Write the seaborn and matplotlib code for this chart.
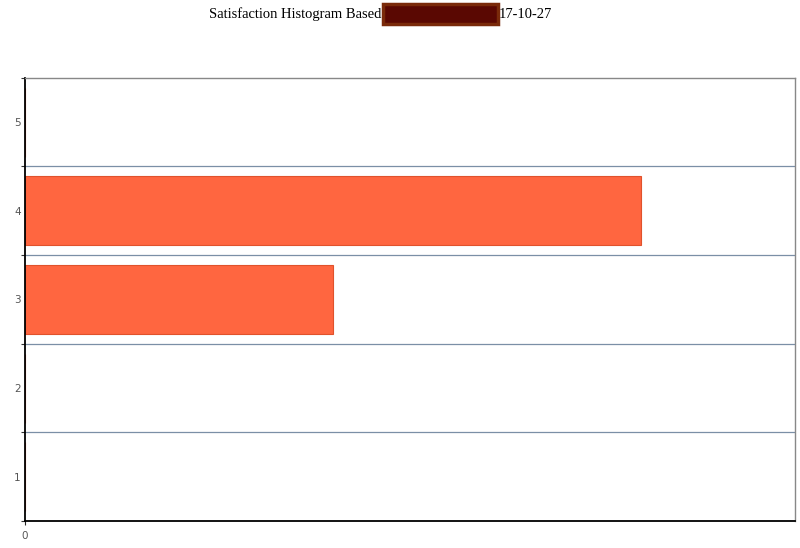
import numpy as np
import pandas as pd
import matplotlib
matplotlib.use("Agg")
import matplotlib.pyplot as plt
import seaborn as sns
from matplotlib.patches import Rectangle

# satisfaction levels, top to bottom as drawn
levels = ['5', '4', '3', '2', '1']
counts = [0, 2, 1, 0, 0]
x_max = 2.5

df = pd.DataFrame({'level': levels, 'count': counts})

sns.set_style('white')
fig = plt.figure(figsize=(8, 5.48), dpi=100)
ax = fig.add_axes([0.031, 0.049, 0.963, 0.809])

sns.barplot(data=df, x='count', y='level', order=levels, orient='h',
            color='#ff6640', saturation=1, width=0.78,
            edgecolor='#e0522c', linewidth=0.8, ax=ax)

ax.set_xlim(0, x_max)
ax.set_ylim(len(levels) - 0.5, -0.5)

# horizontal separators between categories
for b in np.arange(0.5, len(levels) - 0.5, 1):
    ax.axhline(b, color='#7b8fa6', lw=0.9, zorder=0)

ax.set_xlabel('')
ax.set_ylabel('')
ax.set_xticks([0])
ax.set_xticklabels(['0'])
ax.set_yticks(range(len(levels)))
ax.set_yticklabels(levels)
ax.set_yticks(np.arange(-0.5, len(levels), 1), minor=True)
ax.tick_params(axis='y', which='major', length=0, labelsize=7.5, labelcolor='#555555', pad=3)
ax.tick_params(axis='y', which='minor', length=3, width=0.8, color='#333333', direction='out', left=True)
ax.tick_params(axis='x', length=3, width=0.8, labelsize=7.5, labelcolor='#555555', pad=4, bottom=True)

for s in ['left', 'bottom']:
    ax.spines[s].set_color('black')
    ax.spines[s].set_linewidth(1.3)
for s in ['top', 'right']:
    ax.spines[s].set_color('#888888')
    ax.spines[s].set_linewidth(1.0)
    ax.spines[s].set_visible(True)

# title with the redacted part
ty = 1 - 14 / 548
fig.text(381 / 800, ty, 'Satisfaction Histogram Based', ha='right', va='center',
         family='Liberation Serif', fontsize=10.5, color='black')
fig.patches.append(Rectangle((383 / 800, 1 - 24 / 548), 115 / 800, 20 / 548,
                             transform=fig.transFigure, facecolor='#5a0802',
                             edgecolor='#7a2a0a', linewidth=2.5))
fig.text(499 / 800, ty, '17-10-27', ha='left', va='center',
         family='Liberation Serif', fontsize=10.5, color='black')

fig.savefig('out.png', dpi=100)
